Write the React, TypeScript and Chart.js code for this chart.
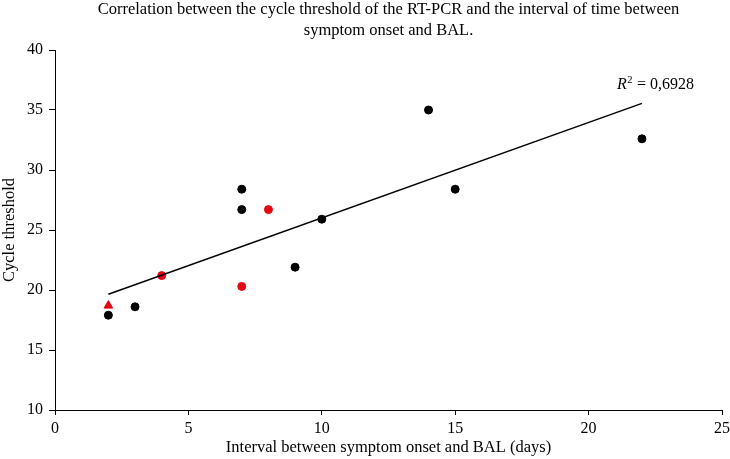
import React, { useEffect, useRef } from "react";
import { Chart, registerables } from "chart.js";

Chart.register(...registerables);

// ---- data ----
const blackX = [2, 3, 7, 7, 9, 10, 14, 15, 22];
const blackY = [17.9, 18.6, 26.7, 28.4, 21.9, 25.9, 35.0, 28.4, 32.6];
const redX = [4, 7, 8];
const redY = [21.2, 20.3, 26.7];
const triangleX = [2];
const triangleY = [18.7];
const trendX = [2, 22];
const trendY = [19.65, 35.55];
const r2Value = "0,6928";
const titleLines = [
  "Correlation between the cycle threshold of the RT-PCR and the interval of time between",
  "symptom onset and BAL.",
];
const xTitle = "Interval between symptom onset and BAL (days)";
const yTitle = "Cycle threshold";

const FONT = "'Liberation Serif', 'DejaVu Serif', serif";
const RED = "#e30613";

const toPts = (xs: number[], ys: number[]) => xs.map((x, i) => ({ x, y: ys[i] }));

const textPlugin = {
  id: "texts",
  afterDraw(chart: any) {
    const { ctx, scales, chartArea } = chart;
    const xs = scales.x;
    const ys = scales.y;
    ctx.save();
    ctx.fillStyle = "#000";
    ctx.textBaseline = "alphabetic";

    // title, centred over the plot area
    ctx.textAlign = "center";
    ctx.font = `16.5px ${FONT}`;
    const cx = (chartArea.left + chartArea.right) / 2;
    titleLines.forEach((line, i) => ctx.fillText(line, cx, 14 + i * 21));

    // R² label near the end of the trend line
    ctx.textAlign = "left";
    const px = xs.getPixelForValue(trendX[1]) - 25;
    const py = ys.getPixelForValue(trendY[1]) - 14;
    ctx.font = `italic 16px ${FONT}`;
    ctx.fillText("R", px, py);
    let w = ctx.measureText("R").width;
    ctx.font = `10.5px ${FONT}`;
    ctx.fillText("2", px + w + 0.5, py - 6);
    w += ctx.measureText("2").width + 1;
    ctx.font = `16px ${FONT}`;
    ctx.fillText(" = " + r2Value, px + w, py);
    ctx.restore();
  },
};

export default function App() {
  const ref = useRef<HTMLCanvasElement | null>(null);

  useEffect(() => {
    document.body.style.margin = "0";
    if (!ref.current) return;
    const chart = new Chart(ref.current, {
      type: "scatter",
      data: {
        datasets: [
          {
            type: "line",
            data: toPts(trendX, trendY),
            borderColor: "#000",
            borderWidth: 1.5,
            pointRadius: 0,
            fill: false,
          } as any,
          {
            data: toPts(blackX, blackY),
            backgroundColor: "#000",
            borderColor: "#000",
            pointRadius: 4,
            pointStyle: "circle",
          },
          {
            data: toPts(redX, redY),
            backgroundColor: RED,
            borderColor: RED,
            pointRadius: 4,
            pointStyle: "circle",
          },
          {
            data: toPts(triangleX, triangleY),
            backgroundColor: RED,
            borderColor: RED,
            pointRadius: 5,
            pointStyle: "triangle",
          },
        ],
      },
      options: {
        animation: false,
        responsive: true,
        maintainAspectRatio: false,
        layout: { padding: { right: 8, left: 0, top: 50, bottom: 0 } },
        plugins: {
          legend: { display: false },
          tooltip: { enabled: false },
          title: { display: false },
        },
        scales: {
          x: {
            type: "linear",
            min: 0,
            max: 25,
            ticks: { stepSize: 5, color: "#000", font: { family: FONT, size: 16 }, padding: 4 },
            grid: { display: true, drawOnChartArea: false, drawTicks: true, tickLength: 5, color: "#000" },
            border: { display: true, color: "#000", width: 1 },
            title: {
              display: true,
              text: xTitle,
              color: "#000",
              font: { family: FONT, size: 16.5 },
              padding: { top: 0, bottom: 1 },
            },
            afterFit(scale: any) {
              scale.height = 49;
              scale.paddingLeft = 0;
              scale.paddingRight = 0;
            },
          },
          y: {
            type: "linear",
            min: 10,
            max: 40,
            ticks: { stepSize: 5, color: "#000", font: { family: FONT, size: 16 }, padding: 6 },
            grid: { display: true, drawOnChartArea: false, drawTicks: true, tickLength: 6, color: "#000" },
            border: { display: true, color: "#000", width: 1 },
            title: {
              display: true,
              text: yTitle,
              color: "#000",
              font: { family: FONT, size: 16.5 },
              padding: { top: 0, bottom: 0 },
            },
            afterFit(scale: any) {
              scale.width = 55;
              scale.paddingTop = 0;
              scale.paddingBottom = 0;
            },
          },
        },
      },
      plugins: [textPlugin],
    });
    return () => chart.destroy();
  }, []);

  return (
    <div style={{ width: 730, height: 459, position: "relative" }}>
      <canvas ref={ref} />
    </div>
  );
}
